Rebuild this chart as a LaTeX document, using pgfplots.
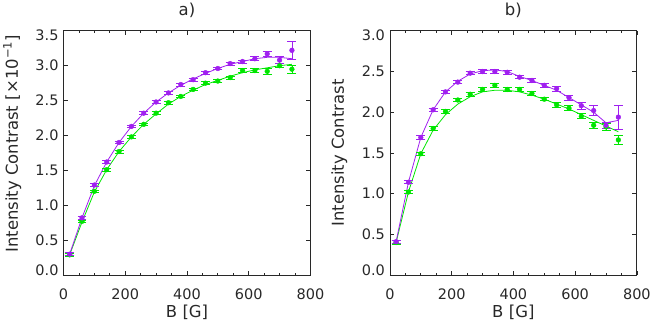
\documentclass[border=0pt]{standalone}
\usepackage{fontspec}
\setmainfont{DejaVu Sans}
\usepackage{pgfplots}
\usepackage{pgfplotstable}
\pgfplotsset{compat=1.18}
\definecolor{ipurple}{RGB}{160,32,240}
\definecolor{igreen}{RGB}{0,230,0}
\definecolor{txt}{RGB}{40,40,40}

\pgfplotstableread{
x y ey
20 0.30 0.02
60 0.82 0.02
100 1.29 0.02
140 1.62 0.02
180 1.90 0.02
220 2.13 0.02
260 2.32 0.02
300 2.48 0.02
340 2.61 0.02
380 2.73 0.02
420 2.80 0.02
460 2.90 0.02
500 2.96 0.02
540 3.03 0.02
580 3.06 0.02
620 3.10 0.03
660 3.17 0.04
700 3.08 0.05
740 3.22 0.13
}\aP
\pgfplotstableread{
x y
20 0.30
60 0.82
100 1.28
140 1.62
180 1.90
220 2.13
260 2.32
300 2.48
340 2.61
380 2.72
420 2.81
460 2.89
500 2.96
540 3.02
580 3.06
620 3.10
660 3.12
700 3.12
740 3.10
}\aPf
\pgfplotstableread{
x y ey
20 0.29 0.02
60 0.77 0.02
100 1.20 0.02
140 1.51 0.02
180 1.77 0.02
220 1.98 0.02
260 2.16 0.02
300 2.32 0.02
340 2.47 0.02
380 2.56 0.02
420 2.66 0.02
460 2.75 0.02
500 2.78 0.02
540 2.83 0.02
580 2.93 0.03
620 2.93 0.03
660 2.92 0.04
700 3.00 0.03
740 2.95 0.06
}\aG
\pgfplotstableread{
x y
20 0.29
60 0.76
100 1.19
140 1.51
180 1.77
220 1.98
260 2.16
300 2.31
340 2.45
380 2.56
420 2.65
460 2.73
500 2.79
540 2.85
580 2.90
620 2.94
660 2.97
700 3.00
740 3.02
}\aGf
\pgfplotstableread{
x y ey
20 0.41 0.02
60 1.14 0.02
100 1.69 0.02
140 2.03 0.02
180 2.25 0.02
220 2.37 0.02
260 2.48 0.02
300 2.50 0.02
340 2.50 0.02
380 2.49 0.02
420 2.43 0.02
460 2.39 0.02
500 2.33 0.02
540 2.29 0.03
580 2.18 0.03
620 2.08 0.04
660 2.02 0.06
700 1.84 0.04
740 1.94 0.15
}\bP
\pgfplotstableread{
x y
20 0.41
60 1.14
100 1.69
140 2.03
180 2.25
220 2.38
260 2.47
300 2.51
340 2.52
380 2.50
420 2.44
460 2.39
500 2.33
540 2.27
580 2.18
620 2.09
660 2.00
700 1.87
740 1.90
}\bPf
\pgfplotstableread{
x y ey
20 0.40 0.02
60 1.02 0.02
100 1.49 0.02
140 1.80 0.02
180 2.01 0.02
220 2.15 0.02
260 2.22 0.02
300 2.28 0.02
340 2.33 0.02
380 2.28 0.02
420 2.28 0.02
460 2.23 0.02
500 2.16 0.02
540 2.09 0.03
580 2.05 0.03
620 1.95 0.03
660 1.84 0.04
700 1.82 0.04
740 1.66 0.06
}\bG
\pgfplotstableread{
x y
20 0.40
60 1.02
100 1.49
140 1.78
180 1.97
220 2.10
260 2.19
300 2.25
340 2.27
380 2.27
420 2.25
460 2.21
500 2.16
540 2.10
580 2.04
620 1.97
660 1.90
700 1.83
740 1.76
}\bGf

\pgfplotsset{
  idl/.style={
    scale only axis, width=247.7pt, height=245pt,
    xmin=0, xmax=800, xtick={0,200,400,600,800},
    xticklabels={0,200,400,600,800},
    minor x tick num=3,
    ymin=0,
    axis line style={line width=0.8pt, txt},
    every tick/.style={txt, line width=0.7pt},
    major tick length=4.5pt, minor tick length=2.5pt,
    tick align=inside,
    /pgf/number format/assume math mode=true,
    tick label style={font=\fontsize{14.5}{16}\selectfont, text=txt},
    xticklabel style={anchor=center, yshift=-19.7pt},
    yticklabel style={xshift=-1.5pt},
    label style={font=\fontsize{16.5}{19}\selectfont, text=txt},
    xlabel style={at={(axis description cs:0.5,-0.154)}, anchor=center},
    title style={at={(axis description cs:0.5,1.058)}, anchor=center,
      font=\fontsize{16.5}{19}\selectfont, text=txt},
    xlabel={B\,\,[G]},
  },
  dat/.style={only marks, mark=*, mark size=2.4pt, color=#1,
    error bars/.cd, y dir=both, y explicit,
    error bar style={line width=0.8pt, #1},
    error mark options={line width=0.8pt, mark size=4.5pt, #1, rotate=90}},
  fit/.style={no marks, line width=0.8pt, color=#1},
}

\begin{document}
\begin{tikzpicture}
\path (0,0) rectangle (654pt,326pt);
\begin{axis}[idl, at={(63.3pt,51.7pt)}, anchor=south west,
  ymax=3.5, ytick={0,0.5,...,3.5},
  yticklabels={\raisebox{4.5pt}[\height][\depth]{0.0},0.5,1.0,1.5,2.0,2.5,3.0,\raisebox{-4.5pt}[\height][\depth]{3.5}},
  title={a)},
  ylabel={Intensity Contrast\,\,[×10\textsuperscript{−1}]},
  ylabel style={at={(axis description cs:-0.207,0.537)}, anchor=center},
]
\addplot[fit=igreen] table[x=x,y=y] {\aGf};
\addplot[fit=ipurple] table[x=x,y=y] {\aPf};
\addplot[dat=igreen] table[x=x,y=y,y error=ey] {\aG};
\addplot[dat=ipurple] table[x=x,y=y,y error=ey] {\aP};
\end{axis}
\begin{axis}[idl, at={(390.7pt,51.7pt)}, anchor=south west,
  ymax=3.0, ytick={0,0.5,...,3.0},
  yticklabels={\raisebox{4.5pt}[\height][\depth]{0.0},0.5,1.0,1.5,2.0,2.5,\raisebox{-4.5pt}[\height][\depth]{3.0}},
  title={b)},
  ylabel={Intensity Contrast},
  ylabel style={at={(axis description cs:-0.205,0.5)}, anchor=center},
]
\addplot[fit=igreen] table[x=x,y=y] {\bGf};
\addplot[fit=ipurple] table[x=x,y=y] {\bPf};
\addplot[dat=igreen] table[x=x,y=y,y error=ey] {\bG};
\addplot[dat=ipurple] table[x=x,y=y,y error=ey] {\bP};
\end{axis}
\end{tikzpicture}
\end{document}
